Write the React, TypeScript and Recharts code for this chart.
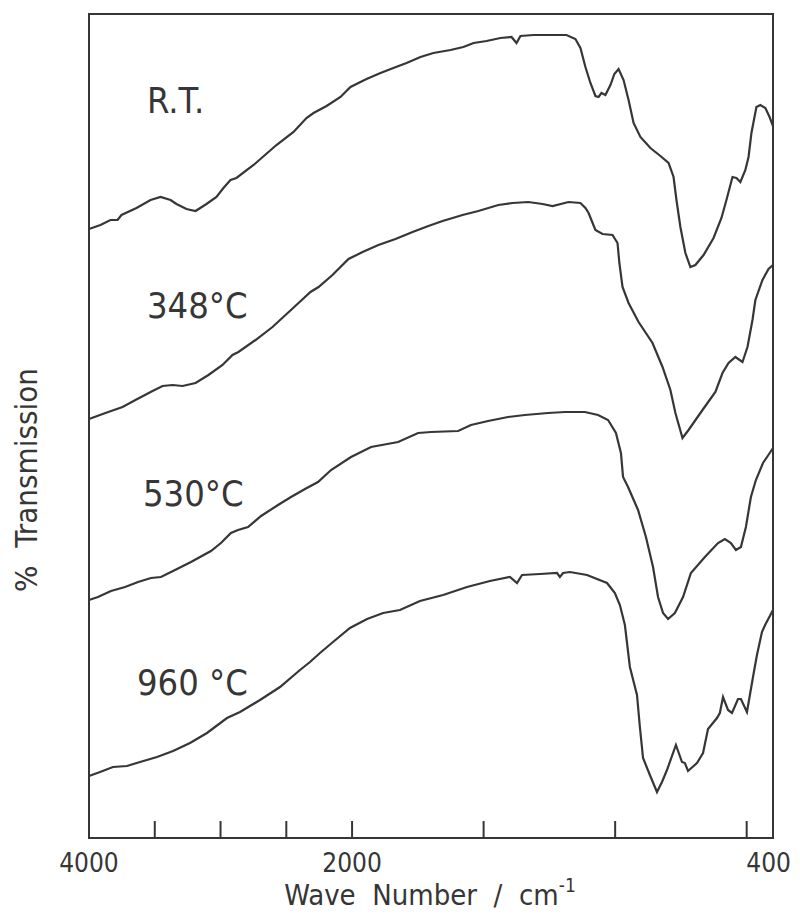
import React from 'react';
import { LineChart, Line, XAxis, YAxis, ReferenceArea } from 'recharts';

// IR spectra, [wave number (cm-1), transmission (a.u., curves offset)]
const rtSpectrum: [number, number][] = [
  [4000, 609], [3913, 613], [3837, 618], [3783, 618], [3753, 623], [3639, 630], [3532, 638], [3456, 641],
  [3380, 638], [3335, 634], [3259, 629], [3190, 627], [3107, 634], [3031, 641], [2978, 650], [2924, 658],
  [2879, 660], [2749, 673], [2575, 693], [2445, 706], [2347, 720], [2293, 725], [2194, 732], [2088, 741],
  [2012, 751], [1945, 759], [1892, 765], [1843, 770], [1793, 775], [1740, 781], [1691, 785], [1626, 788],
  [1577, 791], [1538, 795], [1489, 797], [1436, 800], [1394, 801], [1375, 795], [1360, 802], [1310, 803],
  [1246, 803], [1185, 803], [1151, 799], [1132, 790], [1113, 771], [1094, 755], [1075, 742], [1063, 741],
  [1052, 745], [1037, 743], [1018, 753], [1003, 764], [987, 769], [968, 758], [949, 738], [930, 715],
  [904, 701], [866, 690], [828, 682], [797, 675], [778, 661], [767, 638], [752, 611], [733, 585],
  [714, 571], [695, 573], [664, 583], [626, 600], [596, 620], [577, 638], [554, 661], [539, 660],
  [524, 656], [505, 668], [493, 681], [482, 705], [463, 731], [448, 733], [429, 730], [413, 721], [400, 712],
];

const t348Spectrum: [number, number][] = [
  [4000, 419], [3875, 425], [3745, 431], [3647, 438], [3517, 447], [3441, 452], [3365, 453], [3289, 452],
  [3190, 455], [3092, 463], [2985, 473], [2909, 483], [2864, 486], [2734, 498], [2605, 511], [2506, 523],
  [2407, 535], [2316, 546], [2255, 551], [2149, 563], [2027, 579], [1960, 586], [1900, 593], [1835, 599],
  [1770, 606], [1710, 612], [1656, 617], [1580, 623], [1520, 627], [1444, 633], [1390, 635], [1330, 636],
  [1276, 634], [1238, 632], [1177, 636], [1132, 635], [1113, 630], [1101, 625], [1075, 608], [1048, 604],
  [1010, 603], [991, 595], [984, 575], [972, 551], [949, 535], [911, 516], [858, 495], [820, 471],
  [790, 448], [771, 425], [744, 400], [721, 408], [668, 428], [619, 446], [592, 465], [569, 475],
  [543, 481], [516, 476], [497, 491], [478, 518], [467, 538], [440, 558], [417, 569], [400, 573],
];

const t530Spectrum: [number, number][] = [
  [4000, 238], [3932, 241], [3833, 247], [3726, 251], [3627, 256], [3529, 260], [3453, 261], [3346, 268],
  [3225, 276], [3073, 287], [2997, 295], [2921, 305], [2867, 308], [2791, 311], [2692, 322], [2563, 333],
  [2464, 341], [2358, 349], [2259, 356], [2160, 368], [2008, 381], [1928, 391], [1825, 396], [1749, 405],
  [1700, 406], [1597, 407], [1548, 413], [1483, 417], [1407, 421], [1343, 423], [1255, 425], [1191, 426],
  [1115, 426], [1065, 423], [1027, 418], [997, 405], [978, 385], [970, 361], [951, 351], [913, 328],
  [883, 301], [856, 271], [837, 241], [818, 225], [799, 219], [773, 225], [742, 241], [712, 265],
  [659, 281], [609, 295], [583, 299], [560, 295], [541, 288], [522, 291], [503, 311], [484, 341],
  [465, 358], [438, 375], [415, 384], [400, 390],
];

const t960Spectrum: [number, number][] = [
  [4000, 62], [3916, 66], [3818, 71], [3711, 72], [3612, 76], [3483, 81], [3361, 87], [3232, 95],
  [3103, 105], [2951, 120], [2852, 126], [2700, 138], [2548, 151], [2396, 168], [2320, 176], [2244, 185],
  [2145, 196], [2016, 210], [1943, 219], [1882, 225], [1818, 228], [1742, 237], [1654, 243], [1563, 251],
  [1476, 257], [1400, 261], [1373, 255], [1354, 263], [1286, 264], [1221, 265], [1210, 261], [1198, 265],
  [1172, 266], [1107, 263], [1031, 255], [1001, 245], [982, 233], [963, 213], [944, 171], [917, 143],
  [906, 111], [894, 80], [868, 63], [841, 46], [822, 56], [803, 68], [769, 93], [746, 76],
  [735, 75], [723, 67], [689, 75], [666, 85], [647, 109], [613, 120], [602, 125], [590, 141],
  [571, 128], [556, 125], [533, 139], [522, 139], [499, 126], [476, 161], [461, 183], [442, 206],
  [430, 213], [408, 224], [400, 228],
];

const waveTicks = [4000, 3500, 3000, 2500, 2000, 1500, 1000, 500, 400];
const labelledTicks = [4000, 2000, 400];

const curveLabels = [
  { text: 'R.T.', x: 139, y: 105 },
  { text: '348°C', x: 139, y: 310 },
  { text: '530°C', x: 135, y: 498 },
  { text: '960 °C', x: 129, y: 687 },
];

// the spectrometer chart doubles its scale below 2000 cm-1
const toPos = (w: number) => (w >= 2000 ? (4000 - w) / 2 : 1000 + (2000 - w));
const fromPos = (p: number) => (p <= 1000 ? 4000 - 2 * p : 3000 - p);

const rows = (s: [number, number][]) => s.map(([w, t]) => ({ pos: toPos(w), wave: w, t }));

const INK = '#363636';
const FONT = "'DejaVu Sans Condensed', 'DejaVu Sans', sans-serif";

const WaveTick = (props: any) => {
  const { x, y, payload } = props;
  const w = Math.round(fromPos(payload.value));
  const inner = w !== 4000 && w !== 400;
  const last = w === 400;
  return (
    <g>
      {inner && <line x1={x} x2={x} y1={y} y2={y - 17} stroke={INK} strokeWidth={2} />}
      {labelledTicks.includes(w) && (
        <text
          x={last ? x + 18 : x}
          y={y + 34}
          textAnchor={last ? 'end' : 'middle'}
          fill={INK}
          fontSize={26}
          fontFamily={FONT}
          fontStretch="condensed"
        >
          {w}
        </text>
      )}
    </g>
  );
};

const series = [rtSpectrum, t348Spectrum, t530Spectrum, t960Spectrum];

export default function App() {
  return (
    <LineChart width={784} height={906} margin={{ top: 6, right: 19, bottom: 0, left: 81 }}>
      <XAxis
        type="number"
        dataKey="pos"
        domain={[0, 2600]}
        ticks={waveTicks.map(toPos)}
        interval={0}
        axisLine={false}
        tickLine={false}
        tickSize={0}
        tickMargin={0}
        height={76}
        tick={(p: any) => <WaveTick {...p} />}
      />
      <YAxis type="number" dataKey="t" domain={[0, 824]} hide />
      <ReferenceArea x1={0} x2={2600} y1={0} y2={824} fill="none" stroke={INK} strokeWidth={2} fillOpacity={0} />
      {series.map((s, i) => (
        <Line
          key={i}
          data={rows(s)}
          dataKey="t"
          type="linear"
          stroke={INK}
          strokeWidth={2.2}
          dot={false}
          isAnimationActive={false}
        />
      ))}
      {curveLabels.map((l) => (
        <text key={l.text} x={l.x} y={l.y} fill={INK} fontSize={36} fontFamily={FONT} fontStretch="condensed">
          {l.text}
        </text>
      ))}
      <text
        x={29}
        y={472}
        transform="rotate(-90, 29, 472)"
        textAnchor="middle"
        fill={INK}
        fontSize={31}
        fontFamily={FONT}
        fontStretch="condensed"
        style={{ whiteSpace: 'pre' }}
      >
        {'%  Transmission'}
      </text>
      <text x={422} y={897} textAnchor="middle" fill={INK} fontSize={29} fontFamily={FONT} fontStretch="condensed" style={{ whiteSpace: 'pre' }}>
        {'Wave  Number  /  cm'}
        <tspan dy={-13} fontSize={19}>-1</tspan>
      </text>
    </LineChart>
  );
}
